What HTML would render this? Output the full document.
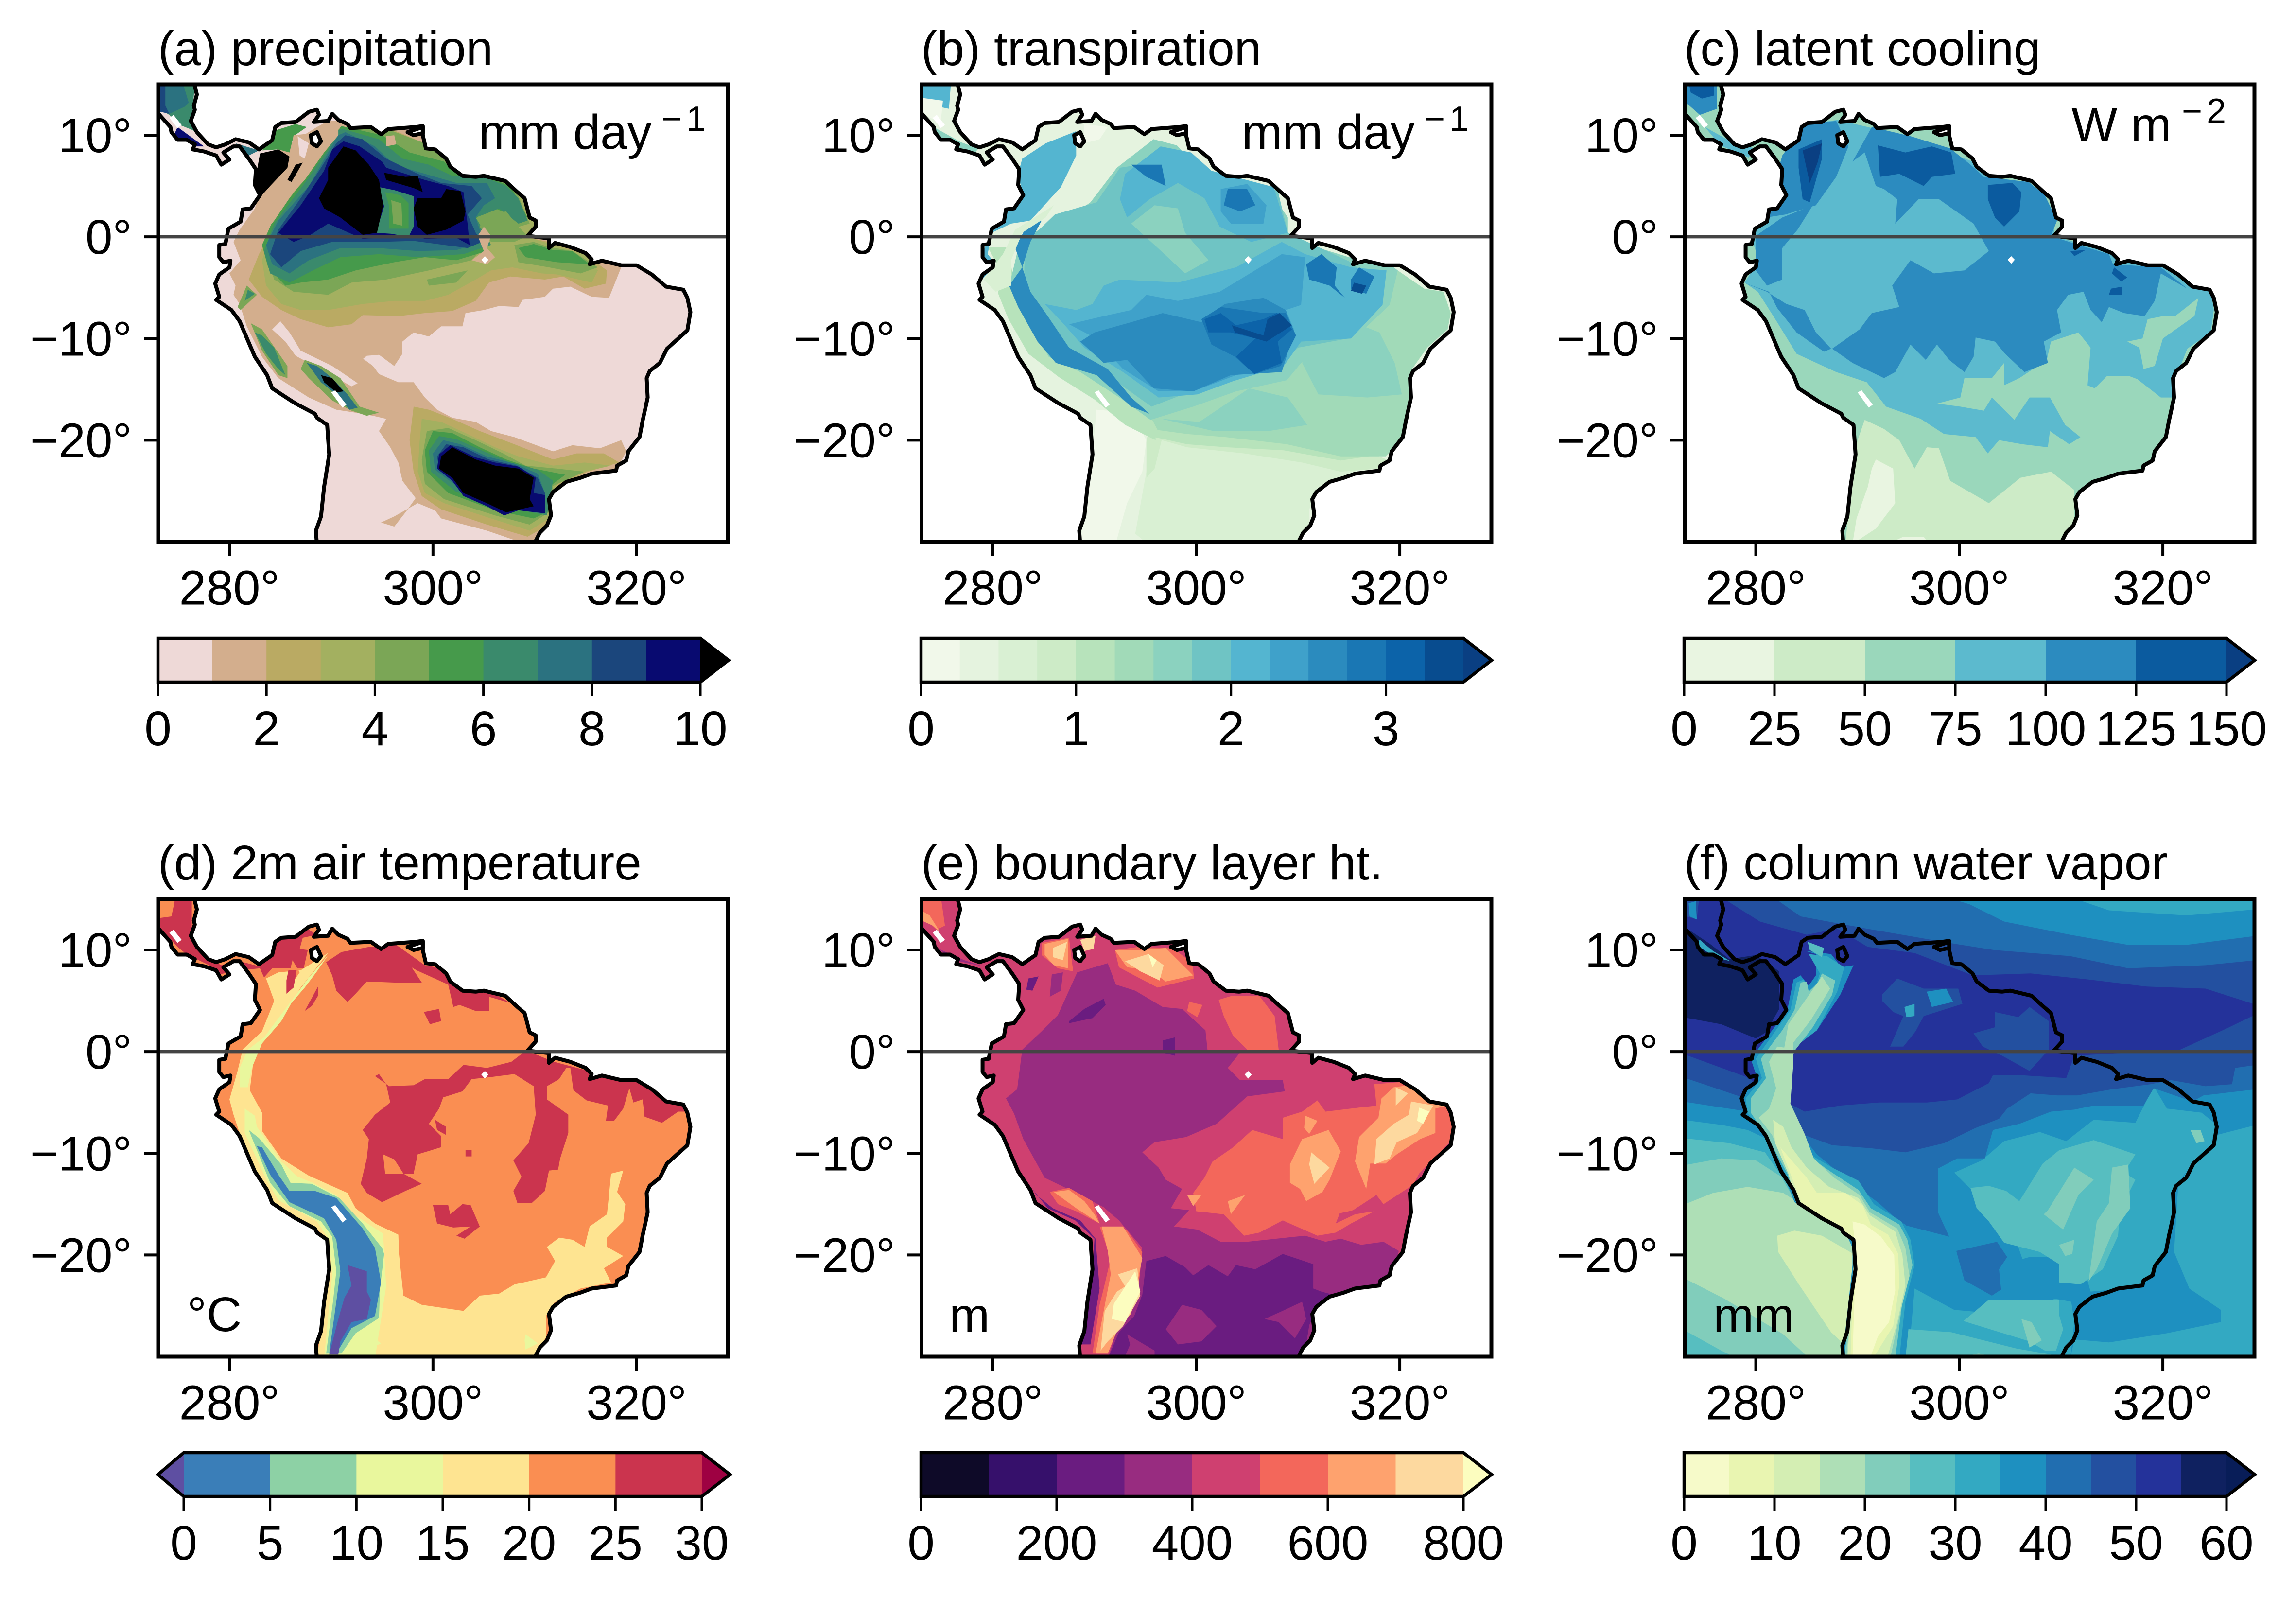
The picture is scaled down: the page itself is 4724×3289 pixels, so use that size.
<!DOCTYPE html>
<html lang="en">
<head>
<meta charset="utf-8">
<title>South America climate maps</title>
<style>
html,body{margin:0;padding:0;background:#fff;}
svg{display:block;font-family:"Liberation Sans",sans-serif;}
text{font-size:100px;fill:#000;}
</style>
</head>
<body>
<svg id="figure" width="4724" height="3289" viewBox="0 0 4724 3289">
<rect x="0" y="0" width="4724" height="3289" fill="#fff"/>
<g id="marks"></g>
<text x="325" y="134">(a) precipitation</text>
<text x="1895" y="134">(b) transpiration</text>
<text x="3465" y="134">(c) latent cooling</text>
<text x="325" y="1809">(d) 2m air temperature</text>
<text x="1895" y="1809">(e) boundary layer ht.</text>
<text x="3465" y="1809">(f) column water vapor</text>
<text x="985" y="306">mm day</text>
<text x="1361" y="269" style="font-size:72px;letter-spacing:9px">−1</text>
<text x="2555" y="306">mm day</text>
<text x="2931" y="269" style="font-size:72px;letter-spacing:9px">−1</text>
<text x="4262" y="291">W m</text>
<text x="4489" y="253" style="font-size:72px;letter-spacing:9px">−2</text>
<text x="385" y="2738">°C</text>
<text x="1953" y="2740">m</text>
<text x="3525" y="2740">mm</text>
</svg>
<script>
/* ---------- shared axis data ---------- */
const lonRange=[273,329];
const latRange=[-30,15];
const lonTicks=[280,300,320];
const latTicks=[10,0,-10,-20];
const coast=[276.5,15.2,276.8,14,276.5,12.9,276.6,12.5,276.2,11.4,276.8,10.3,277.9,9.1,278.7,8.8,279.6,9.1,280.6,9.6,281.9,9.3,282.9,8.6,284.2,9.5,284.5,10.8,285.1,11.2,286.5,11.3,287.8,12.3,288.6,12.5,288.8,12,288.3,11.3,289.7,11.4,290.1,12.1,290.7,11.5,291.6,11.1,291.9,10.7,293.9,10.8,294.9,10.1,295.6,10.6,298.3,10.8,299,10.9,299,10,299.3,8.7,300.2,8.6,301.3,7.7,301.7,6.9,302.9,6,304.2,5.9,305,6,307.1,5.5,308.3,4.4,309,3.8,309.5,1.9,310.1,1.6,310.1,1,309.3,0.1,311.4,-0.15,311.4,-1.1,312,-0.6,313.5,-1,315,-1.6,315.6,-2.2,315.4,-2.7,316.6,-2.35,318.5,-2.8,320,-2.8,321.5,-3.7,322.9,-4.9,324.6,-5.2,325,-6,325.3,-7.4,325,-9.2,323,-11,322.3,-12.4,321.3,-13.2,321,-13.9,321.1,-15.8,320.6,-18.1,320.3,-19.7,319.2,-21.1,319,-22,318.1,-22.5,318,-23,315.6,-23.3,314.5,-23.7,313.1,-24.1,311.8,-25.1,311.4,-25.8,311.6,-27.4,311.2,-28.4,310.5,-29.1,309.9,-30.3,288.6,-30.3,288.5,-28.9,289,-27.5,289.3,-24.6,289.8,-21.4,289.6,-18.5,288.6,-17.8,288.4,-17.4,286.5,-16.4,284.2,-14.9,283.7,-13.6,282.5,-11.8,281,-8.3,280.2,-7.2,278.7,-6.2,279,-5.9,278.6,-4.6,279,-3.7,280,-3,280.1,-2.35,279.4,-2.5,279,-2,279,-0.8,279.6,-0.7,279.9,0.8,281.1,1.5,281.3,2.7,282.1,2.8,283,4.1,282.5,5.1,282.6,6.65,281.9,7.7,281,8.9,280.4,8.9,279.4,8.3,280,7.6,279.2,7.1,278.7,8,277.5,8.4,276.4,8.6,276.6,9.1,275.8,9.55,274.9,9.55,274.3,10.3,274.2,10.8,273.3,11.8,272.8,12.4,272.8,15.2];
const lake=[288,10,288.6,10.3,289,9.4,288.6,8.9,288.1,9.2];
const islet=[297.5,10.3,299,10.8,299,10.2,298.1,10];
const missingPatches=[
[290.0,-15.3,290.4,-15.1,291.5,-16.5,291.1,-16.8],
[304.75,-2.25,305.1,-1.9,305.45,-2.25,305.1,-2.65],
[274.1,11.7,274.5,12.0,275.3,11.0,274.9,10.7]];

/* ---------- (a) precipitation ---------- */
const precipLevels=[0,1,2,3,4,5,6,7,8,9,10];
const precipTicks=[0,2,4,6,8,10];
const precipColours=['#eed9d7','#d3ae8d','#baaa63','#a3b060','#7ba656','#469a4b','#3a8a6c','#2b7280','#1b467c','#080a70','#000000'];
const precipBase=0;
const precipRegions=[
[1,[318.5,-3,317.3,-6,315.6,-5.9,313.5,-4.9,311.8,-5.1,311,-5.9,308.8,-6.2,308.4,-6.9,306.5,-6.8,305,-7.2,303.2,-7.5,302.9,-8.8,300.8,-8.8,299.6,-9.8,298.1,-9.4,297,-10.3,297,-11.5,296.2,-12.7,294.7,-11.6,293.5,-11.7,293,-12.1,291.8,-11,294.1,-12.7,294.7,-13.5,296.6,-14.3,298.1,-14.3,299.2,-15.8,300.4,-17,301.9,-17.8,304.2,-18.2,305.7,-19.1,308,-19.7,309.9,-20.4,311.8,-21.1,313.7,-20.5,316.4,-20.8,318.5,-20,319,-21.1,318.1,-22.8,315.2,-23.4,312.2,-24.9,311.4,-26.2,311.4,-28.3,309.9,-30.1,308.8,-30.1,305.3,-28.9,300.8,-27.7,300.2,-26.9,298.5,-26.2,296.2,-27.5,294.9,-28.1,296.2,-28.5,297.3,-27.1,298.3,-25.7,297,-24,296.6,-22.2,295.8,-20.7,294.7,-19.1,295.4,-17.9,294.1,-17.6,292.4,-17.3,290.5,-17,287.8,-15.8,284.8,-13.9,283.2,-11.8,281.7,-8.8,281,-6.6,280.4,-5.7,280.6,-4.8,280,-3.6,281.1,-2.3,280.4,-0.5,281,0.7,282.5,2.8,283.2,5,283.2,8,285.5,8.9,288.6,10.8,289.7,11.4,291.9,11.5,300,10,303,7,310,4,311,0,315,-1.5,318.5,-2.5]],
[0,[285,-8.3,285.9,-9.4,287,-11.2,290.1,-12.7,292.6,-14.4,292,-14.7,289.3,-13.2,286.5,-11.7,285.5,-10.3,284.2,-9.1]],
[2,[317.1,-3.3,317,-4.6,314.9,-5.1,312.8,-3.9,311,-4.2,307.6,-3.9,305.5,-4.5,304.2,-6.3,301.9,-7.3,299.2,-7.5,296.6,-7.8,293.1,-7.7,292,-8.6,289.7,-8.9,287,-8.1,285.1,-7.2,283.2,-5.9,281.9,-4.2,282.9,-1.7,284.2,0.7,285.1,3.1,287.4,6.2,289.3,8.3,290.1,10.5,292,10.8,295.4,10.8,299.2,9.2,302.3,6.8,308,5,310.3,1.6,309.5,-0.1,311.4,-0.5,314.9,-1.7]],
[3,[316.2,-3.3,315.6,-4.5,312.2,-3.7,310.7,-3.6,307.8,-3,305.7,-3.3,304.2,-4.2,301.5,-5.7,299.2,-6.3,296.2,-6.3,293.1,-6.6,289.7,-7.2,287,-7.2,285.1,-6.6,283.6,-4.8,283.2,-2.3,284,0.1,285.5,2.8,287.8,5.9,289.7,8.3,290.5,10.6,295,10.8,299.2,9.2,302.3,6.8,308,5,310.3,1.6,309.5,-0.1,314.9,-1.7]],
[4,[283.8,-2.3,284.4,-4.2,286.3,-5.4,289.7,-5.7,292,-4.5,295.4,-4.2,299.6,-3.3,303.8,-2.3,304.6,-1.4,305.3,0.1,309.5,1.3,308,5,302.3,6.8,299.2,9.2,295,10.8,290.9,10.8,289.7,8.3,287.8,5.9,285.5,2.8,284.2,0.1]],
[4,[299.4,-4.2,303.4,-3.3,302.3,-4.5,299.6,-4.8]],
[4,[308,-0.8,309.9,-0.5,311.4,-1,313.7,-1.4,316.2,-3,314.5,-3.6,311.4,-3,308.4,-2.5]],
[5,[291,10.9,295,10,297.7,8.3,301.1,7.4,302.3,6.2,305.3,5.9,307.6,5,309.3,1.9,307.6,2.2,306.1,2.8,304.6,2.2,303.8,1.3,305.3,-0.2,305.3,-1.4,302.3,-2.3,299.2,-2,296.2,-2.5,292.4,-3.3,289.7,-4.2,287,-4.5,285.5,-4.8,283.8,-3,283.2,-0.8,284.4,1.9,287.8,6.2,289.3,8.6]],
[5,[308.4,-1.1,309.9,-0.7,311.8,-1.3,313.7,-1.4,315.4,-2.7,312.2,-2.5,309.1,-2]],
[6,[291.2,10.6,294.7,9.6,297,7.7,299.6,7.1,301.9,6,305,5.9,307.2,5,308.4,3.8,309.3,1.6,308.4,1.3,306.5,2.8,305,2.2,304.2,1.9,305.3,0.1,305.7,-0.8,303,-1.7,298.5,-2,294.7,-1.7,290.9,-2,288.2,-3.3,285.9,-4.5,284,-3.6,283.4,-1.4,284.4,1.3,287.4,5.3,289.7,8.6,290.5,10.5]],
[7,[291.4,10.3,294.3,8.9,296.2,7.1,299.2,6.2,302.3,5.3,305.3,5.3,306.1,3.8,305,3.1,304.2,1.9,305,-0.5,302.3,-1.3,298.5,-1.4,294.7,-1.1,290.9,-1.1,287.8,-2.3,285.9,-3.6,284.2,-2.7,283.6,-0.8,284.8,1.6,287.8,5,289.7,8.3,290.7,10]],
[8,[291.4,10,293.1,9.6,295.4,7.7,298.5,6.2,300.8,5.3,303.8,5,304.8,3.8,304.2,3.1,303.4,2.2,304.2,0.4,304.8,-0.5,303.4,-1.1,298.1,-0.4,294.7,-0.5,290.1,-0.5,287,-1.4,285.1,-3,284,-1.7,284.8,0.7,287,3.8,289,6.8,290.5,9.2]],
[9,[291.2,9.4,292.8,8.9,295,7.4,295.4,6.8,299.2,5.6,301.5,5,303,4.4,303.4,1.3,303.6,-0.8,302.3,-0.1,299.2,-0.2,298.1,0.1,293.1,-0.2,289.7,1.3,287.8,0.1,286.3,-0.5,284.8,0.4,287,3.1,289.3,6.5,290.1,8.6]],
[6,[294.7,4.9,296.2,4.6,298.1,4,298.1,1,297.6,0,295.9,0.3,294.4,0.4,295.2,3]],
[5,[295.3,4.4,296.8,4.1,297.6,3.3,297.6,0.8,295.7,0.8,295.7,3]],
[4,[295.9,3.6,296.9,3.3,297,1.1,296.1,1.3]],
[4,[305.1,2.2,307.2,2.5,308.4,1,309.3,0.1,308,-0.5,305.7,-0.5,304.6,1]],
[1,[305,1,305.7,0.1,305.3,-1.1,306.1,-2,305.3,-2.7,303.8,-2.3,305,-1.4,304.4,0.1]],
[1,[295.4,9.9,296.2,10,296.4,9.1,295.4,8.9]],
[5,[283.2,8.5,284.6,10.5,286.5,11.1,287.6,10.8,286.3,9.9,285.9,8.3,284.8,8.6]],
[1,[286.3,10,288.2,10.2,288,7.4,286.9,7.4,285.1,4.5,284.4,4.4,283.2,2.2,282.1,0.4,281.5,-1.7,281.3,-0.5,282.5,2.2,284.4,5.3,285.9,7.7]],
[0,[286.7,9.9,287.8,9.2,287.4,7.7,286.9,8]],
[1,[289.7,10.8,290.7,10.8,290.7,10,289.3,8.3,287.4,5.6,286.3,4.4,284.4,1.6,283.2,0.1,282.9,-1.7,281.9,-1.7,282.5,0.1,284.4,2.2,286.3,5.3,288.2,7.4,289.3,9.2]],
[10,[291.2,8.9,289.7,6.8,289.7,5.6,288.8,3.8,289.3,2.8,290.9,1.9,293.1,0.2,294.5,0.4,294.9,2.2,295.1,3.1,294.7,5.6,293.7,7.1,292.4,8.5]],
[10,[283,8.2,284.8,8.6,285.9,7.9,285.7,6.8,284,5,283.2,4.1,282.7,4.4,282.7,6.5]],
[10,[295.2,6.3,297.3,5.9,298.5,6,299,4.4,298.1,4.8,295.4,5.6]],
[10,[301.3,4.7,302.7,4.5,303.2,2.5,303,1.6,301.3,0.7,299.4,0.2,298.5,1,298.1,2.8,298.5,3.8,300.8,3.8]],
[10,[286.5,7.1,287.2,7.3,286.1,5.4,285.7,5.6]],
[6,[272.8,15.2,276.6,15.2,276.3,11.4,277.9,9.1,276.4,10.5,274.9,11.1,274.1,12,273,12.6]],
[7,[273.3,15.2,275.4,15.2,276,13.2,275.6,12.8,274.1,12.1,273.1,13.2]],
[8,[272.8,15.2,273.7,15.2,273.7,12.9,274.1,12.1,272.8,12.4]],
[9,[274.9,10.8,277.5,8.9,276.2,8.9,274.5,9.9]],
[7,[280.6,9.2,282.9,8.5,281.7,7.9]],
[4,[281.7,-4.8,282.7,-5.7,281.1,-7.2,280.8,-6.9]],
[6,[281.8,-5.2,282.5,-5.6,281.5,-6.3]],
[4,[282.1,-8.5,283.2,-9.1,285.7,-12.7,285.7,-13.9,284.8,-13.6,283.2,-11.2]],
[6,[282.5,-9.4,283.2,-9.7,284.4,-10.9,285.5,-13.6,284.8,-13,283.6,-11.5]],
[4,[287.4,-12.1,289,-12.7,290.9,-13.9,292.8,-16.7,294.7,-17.3,293.5,-17.6,292,-17.1,290.1,-16.1,287.8,-13.9,287,-13]],
[7,[287.6,-12.4,288.6,-12.7,290.1,-13.9,291.6,-15.5,292.6,-16.8,291.8,-17,290.5,-15.5,289,-14.3]],
[10,[289,-13.6,290.1,-13.9,291.2,-15.2,290.5,-15.3,289.3,-14.3]],
[2,[298.1,-16.7,299.6,-17,301.9,-17.9,304.6,-19.1,308,-20.4,311.8,-21.9,314.1,-21.3,316.8,-21.3,318.3,-22.2,315.2,-23.1,312.2,-24.6,311.4,-26.2,311.4,-28.3,309.3,-29.5,305.3,-28.3,300.8,-26.8,298.9,-25.5,298.1,-23.1,297.7,-20]],
[3,[298.9,-17.9,300.8,-18.2,303.4,-19.4,306.1,-20.7,308.4,-21.6,311.8,-22.5,314.9,-22.2,317.5,-22.5,314.9,-23.1,312.2,-24.3,311.4,-25.8,311.4,-27.7,309.5,-28.9,305.7,-27.7,301.1,-26.2,299.2,-25.2,298.5,-23.1,298.7,-20]],
[4,[299.4,-19.1,301.5,-18.8,304.2,-20,306.9,-21.3,309.1,-22.5,312.2,-22.8,314.9,-23.1,311.8,-24.5,311.4,-27.1,309.5,-28.3,306.1,-27.4,301.1,-25.8,299.2,-24.3,298.9,-21.9]],
[5,[300,-19.1,301.9,-19.3,304.6,-20.7,307.2,-21.9,309.9,-22.8,313,-23.4,311.4,-24.6,311.2,-27.1,309.9,-27.7,306.1,-26.9,301.5,-25.2,299.4,-23.1,299.2,-21]],
[6,[300.6,-19.6,302.3,-19.9,305,-21.1,307.6,-22.2,310.3,-22.9,311.8,-24,311.2,-27.4,307.2,-26.6,302.3,-25.1,299.8,-23.1,299.6,-21]],
[7,[301,-20,302.7,-20.4,305.3,-21.6,308,-22.3,310.3,-23.3,311,-25.2,311,-27.2,307.2,-26.3,302.7,-24.8,300.2,-22.9,300,-21.3]],
[8,[301.3,-20.4,303,-20.7,305.5,-21.9,308.2,-22.5,310.3,-23.7,311,-25.2,311,-27.1,307.2,-26.2,302.9,-24.5,300.6,-22.8,300.4,-21.6]],
[9,[301.7,-20.5,304.2,-21.7,306.1,-22.2,308.4,-22.6,310.1,-23.7,309.9,-25.2,311,-25.4,311,-27.2,308.4,-26.9,307,-27.4,305.3,-26.5,303,-25.5,301.9,-24,300.4,-22.8,300.6,-21.4]],
[10,[301.9,-20.7,304.2,-21.9,306.1,-22.5,308.4,-22.8,309.9,-23.7,309.5,-25.8,309.9,-26.5,307.2,-27.1,305.3,-26.2,303,-25.2,301.9,-23.7,300.6,-22.8,300.8,-21.6]]
];

/* ---------- (b) transpiration ---------- */
const transpLevels=[0,0.25,0.5,0.75,1,1.25,1.5,1.75,2,2.25,2.5,2.75,3,3.25,3.5];
const transpTicks=[0,1,2,3];
const transpColours=['#f1f8ea','#e5f3df','#d9f0d3','#cdebc7','#b7e3bb','#a1dab8','#8bd2bf','#6fc4c4','#54b5d0','#3fa1ca','#2b8bbe','#1a77b4','#0c63a9','#084c8f','#0a3f82'];
const transpBase=0.25;
const transpRegions=[
[0.5,[295.5,-20,298.9,-19.7,306.6,-20.4,314.2,-21.3,317.6,-22.2,314.2,-23.7,311.9,-24.9,311.1,-26.8,311.1,-28.3,309.8,-30.1,295.1,-30.1,294,-29.2,295.1,-23.1]],
[0,[290.2,-17,293.6,-17.3,295.1,-20,294.7,-23.1,293.2,-26.2,292.1,-30.1,288.6,-30.1,289,-27.4,289.8,-21.3]],
[0.75,[295.5,-18.5,299.1,-18.3,303.6,-18.7,308.6,-19,314.2,-20,318.7,-21.9,318,-22.8,314.2,-23.1,310.4,-22.2,304.7,-21.3,299.1,-20.7,296.6,-20,295.9,-22.8,295.1,-23.7,295.1,-20]],
[1,[279.5,-1,280.6,-3,280.5,-5.5,281.5,-8,283.5,-11.5,286.5,-13.8,290,-16,293,-18.5,296,-20,296,-17,291,-13,285,-9,282,-4,281.5,-1]],
[1,[295.9,-17,299.7,-16,304,-16.5,309,-17,314,-17,320,-16,319,-21.3,314.2,-22,308.6,-21,303,-20.7,299.1,-20.4,295.9,-19.7]],
[1.25,[295.4,-17.5,299.7,-16,304.2,-13.5,308.4,-10.8,310.3,-9,315.2,-6.2,319.4,-4.4,319.8,-3.3,322.4,-5.1,324.3,-5.4,325,-7.5,324.7,-9.1,322.7,-10.9,321.2,-13,320.9,-14,321.1,-15.8,320.5,-18,320.1,-19.7,319.2,-21,318.6,-21.6,314.2,-21.6,308.9,-20.4,302.9,-19.7,299.1,-19.4,296.2,-19]],
[1.5,[296.6,-17.9,300.3,-18.2,305.2,-14.9,309,-15.8,310.9,-18.5,307.1,-19.1,301.7,-19.1]],
[1.5,[310.4,-12.4,315.4,-8.4,318,-9.4,319.5,-12.4,320.2,-15.5,316.8,-15.8,312,-15.5]],
[1.5,[283,0.1,286.9,1.5,289.6,3.4,292.2,6.8,295.8,9.6,298.1,9,300.7,6.2,306.9,5,309,1.9,309,0,311.1,-0.8,315,-2,319.4,-3,319.8,-3.3,319,-6.7,315.2,-10.3,310.3,-12.4,308.9,-14.1,303.9,-15.2,299.7,-16.7,295.5,-18,292.6,-15.9,288.6,-13.3,285.5,-11.8,283.1,-7.8,281.7,-4.5,282.5,-1.1]],
[1.75,[283.3,-0.5,286.1,2.2,290.2,3.4,292.5,6.8,296.3,7.4,299.2,6.2,300.8,6,308,4.6,309,0.4,315,-2.4,318.3,-4.8,317.9,-6.7,314.9,-10,310,-10.9,308.1,-12.7,302.5,-14,298.7,-15.5,295.6,-16.7,291.8,-14,288,-12.4,285,-10,283.1,-5.7,283.1,-3]],
[1.5,[293.6,1.3,295.9,3.1,298.2,2.8,298.9,0.4,301.2,-2.3,298.9,-3.6,295.9,-0.8]],
[2,[290.9,-4.8,292.5,-4.2,298.2,-4.5,303.9,-3,308.4,-0.5,310.7,-1.7,315.2,-3,318.7,-3.3,318.3,-6.7,315.2,-10,310.3,-10.3,308.6,-12.7,303.6,-14.2,300.1,-15.5,296.3,-15.8,292.8,-13.3,289,-10.9,287,-8.6,285.1,-6.6,288.2,-7.2,289.8,-6.6]],
[2,[293,6.2,296.5,8.9,299.5,8.3,301.5,6.5,307.6,4.9,309,0.4,305.4,-0.5,302.3,1,300.8,3.8,298.2,5.3,295.4,3.7,293.2,1.9,292.5,3.7]],
[2.25,[290.9,-7.8,293.6,-7.2,295.1,-5.7,298.2,-6.3,302.3,-5.4,308.4,-1.7,310.7,-2,310.3,-6.7,308.8,-7.2,309.6,-9.1,308.4,-12.7,303.9,-13.6,299.7,-15.2,296.3,-15.2,292.8,-13,289.8,-9.8,287.5,-8.6]],
[2.25,[302.4,4.7,305,5.2,306.9,3.1,306.6,1.3,303.4,1.3,302.4,2.5]],
[2.5,[290,-9.4,293.6,-8.4,296.7,-7.5,300.5,-8.4,302.8,-6.6,306.6,-6,308.8,-7.2,309.6,-9.4,308.4,-13.3,303.4,-13.6,299.7,-15.2,295.8,-14.9,293.2,-12.1,290.9,-12.4,288.6,-10.3]],
[2.5,[281.6,-4.8,282.9,-3,282.2,-1.1,283.3,1,284.8,1.6,283.7,-0.5,282.9,-3,283.7,-5.4,285.2,-7.5,287.5,-10.9,291.3,-13,293.6,-15.8,295.4,-17.4,293.6,-16.7,290.2,-13.6,286.2,-12.4,284.4,-10.3,282.5,-6.9]],
[2.75,[300.5,-8.1,302.4,-6.9,306.6,-7.5,308.8,-7.5,309.8,-9.7,308.3,-12.7,305.7,-13.5,303.8,-11.8,301.5,-10.6]],
[2.75,[310.8,-2.7,312.3,-1.7,313.8,-3,313.6,-4.8,314.6,-6,313.1,-4.8,311.1,-4.2]],
[2.75,[315.2,-4.2,316,-3,317.5,-3.9,316.7,-5.6,315.2,-5.1]],
[2.75,[295.1,7.1,296.6,7.1,297,5,295.1,5.9,293.6,7.1]],
[2.75,[303.1,4.7,305,4.7,305.8,3.1,304.3,2.5,302.7,3.1]],
[3,[300.8,-8.1,302.4,-7.5,303.9,-8.7,306.6,-8.1,307.9,-7.5,309.4,-9.1,308,-10.3,308.4,-12.4,305.7,-13.5,303.9,-11.8,305.8,-10,303.4,-9.4,301.2,-9.4]],
[3,[285.2,8.9,287.5,9.6,287.7,8.4,286.5,8,285.9,4.9,284.8,5.9,285.2,7.7]],
[3.25,[303.5,-8.7,306.6,-9.7,307,-8.1,308.2,-7.5,309.4,-8.7,306.9,-10.3,303.8,-9.4]],
[3.25,[315.5,-4.5,316.7,-4.8,316.3,-5.6,315.2,-5.3]],
[2,[282.9,7.7,285.2,9.2,288.2,10.4,288.2,8,286.7,4.9,283.7,1.6,281.8,1.3,279.9,0.4,279.5,-1.7,280.3,-2.7,278.7,-4.5,279.1,-1.4,279.9,0.7,281.3,2.2,282.9,4.4,282.5,6.2]],
[0.5,[281,-1.7,282.2,0.7,286,3.1,285.2,1.9,282.9,0.4,281.8,-2.3,281.8,-4.8,280.3,-5.4,279.1,-4.2]],
[0,[289,11.1,291.3,10.8,290.5,9.6,289,9.2]],
[2,[272.8,15.2,275.9,15.2,275.7,12.6,274.2,12.9,272.8,13.5]],
[0,[272.8,13.7,275.1,13.4,274.9,11.4,273.8,11.7,272.8,12.6]],
[1.5,[274.2,10.8,276.9,9.3,278.6,8.7,278,8,275,9.3]]
];

/* ---------- (c) latent cooling ---------- */
const latentLevels=[0,25,50,75,100,125,150];
const latentTicks=[0,25,50,75,100,125,150];
const latentColours=['#e9f5e1','#cdebc7','#9ad7bb','#5cbace','#2c8bbf','#0b5b9f','#0a3f82'];
const latentBase=50;
const latentRegions=[
[25,[290.7,-18,292.6,-18.9,294.1,-20,295.6,-22.8,296.8,-20.7,298,-20.8,299.1,-24,302.9,-26.2,306,-23.7,309,-23.1,311.3,-24.9,311.3,-30.2,288.8,-30.2,289.5,-23.1,290,-20]],
[0,[291.8,-21.9,293.5,-22.8,293.7,-26.2,291.8,-28.7,289.5,-30.2,289.9,-27.7,291,-24.6,291.4,-22.8]],
[0,[293,-30.2,294.5,-29.5,296.5,-29.5,297,-30.2]],
[75,[278.9,-4.5,280.3,-2.3,279.5,0.1,281,1.5,282,3,283,4.5,284,8,284.5,11,288,11.5,291,10.8,295.6,9.6,301.3,7.4,302.9,5.9,307,5.3,309.3,2.2,309.3,0.1,311.3,-0.5,315.1,-1.7,315.9,-2.3,320.1,-3,322.8,-4.8,324.7,-5.2,325,-7.2,324.7,-9.4,322.4,-11,321.7,-12.8,320.9,-14.4,321.1,-15.8,319.8,-15.8,317.5,-14,316.7,-13.7,314.5,-13.7,313.3,-14.9,312.6,-14.6,312.9,-10.9,311.7,-9.4,309,-10.3,308.6,-12.1,305.9,-13.9,304.4,-14.6,304.4,-12.4,303.2,-13.9,300.5,-13.9,300.1,-15.8,297.8,-16.4,300.1,-16.7,302.4,-17.1,303.2,-15.8,305.4,-18,306.9,-15.8,308.9,-15.8,310.4,-18.5,311.9,-19.7,310.8,-20.4,308.9,-19.1,308.7,-20.7,306.2,-20.4,303.9,-20,302.8,-21.3,301.6,-19.7,298.5,-19.4,296.2,-17.9,292.8,-16.7,290.9,-14.3,287.9,-13.3,284,-11.5,282.1,-8.4,280.2,-5.4]],
[50,[318.5,-8.1,320,-7.8,321.2,-7.8,323.5,-6,323.1,-7.8,320,-10,319.2,-12.7,318.1,-13,317.7,-10.9,316.5,-10.3,318,-10]],
[100,[289.5,7.4,291.4,10.8,295.2,9.9,299.1,8.7,301.1,7.1,302.4,5.9,306.8,5.4,308.4,4.1,309.6,1.6,309,0.1,311.7,-0.8,314.7,-1.7,315.1,-2.7,319.8,-3,322.4,-5.1,319.8,-3.6,319.2,-6.3,318.2,-7.8,316.2,-7.5,314.7,-6.9,314,-8.4,312.9,-7.2,312.2,-5.4,310.7,-5.7,309.6,-7.2,310,-9.4,308.3,-10.3,308.7,-12.4,306.4,-13.3,304.5,-11.5,303.5,-10.3,301.6,-9.9,301.4,-11.8,300.5,-13.3,299,-12.1,297.8,-10.6,296.7,-12.1,295.2,-10.6,293.7,-13.3,292.6,-13.9,289.5,-12.4,287.5,-11,290.2,-9.1,291.4,-7.5,294.1,-6.9,293.4,-4.8,295.2,-2.3,297.5,-3.6,300.5,-3.3,302.9,-1.4,301.4,1.3,298,3.7,296,3.7,293.7,1.3,293.9,3.7,292.6,4.7,291.8,5,290.7,8.3]],
[100,[278.8,-4.5,281.1,-5.4,283,-6.6,284.8,-7.2,285.9,-9.4,287.4,-11,286.7,-11.3,284,-9.4,282.1,-7,281.3,-5.4]],
[100,[280,0.1,282.6,1.9,285.6,3.1,284.1,0.7,282.6,-1.1,282.6,-4.2,281.1,-4.8,280,-3.3]],
[100,[282.6,8,284.9,11.1,287.9,11.4,289.1,8.9,287.9,5.9,285.9,3.1,282.9,2.2,281,1.9,282.6,3.7,282.1,6.2]],
[125,[292,9,294.7,8.3,297.3,8.9,299.2,8.3,299.6,6.2,297.3,5.9,296.5,5,294.1,6.2,292.2,5.9]],
[125,[302.8,5.1,305.2,5.3,306.1,4.4,305.9,2.5,304.4,1,303.5,1.9,302.8,3.7]],
[125,[284.2,8.6,286.5,9.6,286.5,7.7,285.3,3.4,284.6,3.7,284.2,6.8]],
[125,[315.2,-3,316.5,-4,315.9,-4.4,315,-3.6]],
[125,[314.9,-5.1,316,-4.9,316,-5.7,314.7,-5.7]],
[125,[310.9,-1.4,312.4,-1.3,311.3,-1.9]],
[150,[284.6,8.5,286.5,9.2,286.1,7.4,285.3,5.3]],
[100,[272.8,15.2,276.2,15.2,276.2,12.6,274.5,12,272.8,13.5]],
[125,[273.4,15.2,275.9,15.2,275.9,13.9,274.7,13.6,273.6,14.2]],
[75,[275,10.8,277.7,9.3,279.9,8.7,279.3,7.8,276.5,9]]
];

/* ---------- (d) 2 m air temperature ---------- */
const tempLevels=[0,5,10,15,20,25,30];
const tempTicks=[0,5,10,15,20,25,30];
const tempColours=['#5e4fa2','#3a7eb8','#8dd1a5','#e9f79d','#fee491','#fa8e52','#cb344e','#9e0142'];
const tempBase=20;
const tempRegions=[
[25,[289.5,8.8,291,9.8,293.7,10.3,296.4,10.5,299.2,8.5,300.8,8.2,301.9,7,302.9,6.1,305.3,6.1,307.6,4.8,305.5,5.4,305.5,4,304.2,4,302.6,4.6,302,4.4,301.5,6.6,298.4,8,297.9,8.3,298.9,6.8,296.2,6.8,293.5,6.9,292.4,5.7,291.6,4.9,290.5,6,290.1,7.5]],
[25,[299.1,3.9,300.6,4.2,300.8,3,299.7,2.7]],
[25,[309,0,309.9,-0.2,311.9,-1,315.3,-1.9,316.9,-2.4,320.5,-3,323.4,-5,325,-5.3,325.3,-5.9,324.1,-5.9,322.5,-7,320.8,-6.4,320.6,-4.7,319.7,-5,319.3,-3.6,318.7,-5.6,317.8,-6.8,317,-6.8,317.2,-5.3,315.1,-4.8,313.8,-3.8,313.5,-1.6,313.1,-1.6,312.4,-2.7,311.2,-3.4,311.2,-4.7,313.3,-6.2,313.3,-8,312.5,-10.5,312.3,-11.6,311.4,-11.7,311,-13.7,309.7,-14.9,308.3,-14.9,307.9,-13.7,308.7,-12.3,307.9,-10.7,309.4,-9,310.1,-6.2,309.9,-3.4,308,-2.2,305.7,-2.5,303.8,-2.7,302.9,-3.9,301,-4.5,300.6,-5.6,299.6,-7.1,300.8,-8.3,300.8,-9.4,298.5,-10.1,298.1,-12,297.1,-12,296.2,-10.6,295.1,-10.1,295.3,-12,297.1,-12,298.9,-13,297.3,-13.7,295,-14.8,293.5,-13.9,292.9,-13,293.5,-10.5,293.7,-8.6,293.1,-7.7,294.3,-6.2,295.8,-5,295.4,-3.2,294.7,-2.2,294.3,-2.4,295.7,-3.4,298.1,-3.3,299.2,-2.7,301.5,-2.7,303,-1.3,305.3,-1.6,307.7,-1]],
[25,[300.2,-6.7,301.3,-7.4,301.3,-8.2,300.4,-7.7]],
[25,[300,-15.1,301.5,-15.1,301.7,-16,302.9,-15,303.7,-15.1,304.6,-17.2,303.1,-18.4,302.3,-18.1,303.7,-17.2,302,-17.3,300.4,-16.9]],
[25,[303.2,-9.7,303.8,-9.7,303.8,-10.3,303.2,-10.3]],
[15,[296.2,-18.1,296.6,-19.3,297.1,-24,298.9,-24.9,303,-25.5,304.6,-24,306.5,-23.8,308,-22.9,311.1,-22.2,312,-20.6,311.2,-19.2,312.4,-18.3,313.7,-18.5,314.9,-19.2,315.4,-17.2,317.1,-16,317.3,-14.1,317.5,-12,318.7,-11.7,318.1,-13.8,318.9,-15,318.7,-16.7,317.1,-18.3,317.1,-19.2,318.7,-20.1,316.8,-21.3,317.5,-22.7,314.5,-23.3,311.9,-24.7,311.1,-26,311.1,-28.1,309.9,-30.2,293.1,-30.2,294.7,-23.3,294.7,-17.5]],
[15,[280.4,-6.2,280,-4.7,280.8,-1.9,281.3,0.2,283.2,2,284.4,5,283.6,7.2,284.8,7.8,287,8,289.7,9.7,287,6.3,285.1,3.2,284,1.7,282.5,0.2,282,-3.8,283.2,-6,283.2,-7.8,285.1,-10.5,287.8,-12.2,291.6,-13.9,292.4,-15.4,294.3,-16.9,296.6,-18,297,-30.2,288.6,-30.2,289.3,-24.9,289.8,-21.5,289.6,-18.4,288.3,-17.2,284.4,-15.1,283.2,-12.9,281.3,-8.9]],
[10,[281.5,-5.6,282.5,-6.3,282.7,-7.4,285.1,-10.8,286.7,-12.3,288.2,-12.9,290.5,-14.1,291.6,-15.6,295.1,-17.9,295.4,-23.1,294.3,-30.2,289.3,-30.2,290.1,-21.9,289.8,-18.5,288.6,-16.7,284.8,-14.6,283.7,-12.7,281.5,-8]],
[10,[281,-1.6,281.8,0.2,283.4,1.4,285.5,4.2,287.8,7.3,289.7,9.5,288.6,7.9,287.4,6.3,286.1,4.8,285.1,3,283.2,0.8,282.2,-1.6,281.8,-3.5,281,-3.5]],
[10,[309.1,-27.8,310.3,-28.7,309.1,-29.3,309,-28.4]],
[10,[292.2,-27.8,294.5,-28.4,294.9,-28.7,292.8,-29.7]],
[5,[281.9,-7.7,282.9,-8.5,285.1,-11.1,286,-12.9,288.1,-13,290.8,-14.4,293.1,-16.9,295,-19.3,295.2,-19.9,294.8,-23.3,294.7,-26.2,292.4,-27.7,291,-29.7,289.5,-29.7,290.2,-24.4,290.5,-21.6,290.1,-18.2,289,-16.7,285.9,-15.2,284,-12.9]],
[0,[282.7,-9.3,283.2,-9.4,284.8,-12.1,285.9,-13.7,288.4,-13.7,290.5,-14.4,293.1,-17.4,294.3,-19.3,294.9,-22.7,294.3,-26,292,-27.2,290.5,-29.7,289.8,-29.7,290.5,-24.6,290.9,-21.6,290.5,-18.5,289.3,-16.4,285.9,-14.8,284,-12.1]],
[-5,[291.6,-21,293.5,-21.6,293.5,-23.6,293.9,-24.4,293.5,-26.3,292,-26.6,290.9,-28.5,290.7,-29.8,289.8,-29.8,290.7,-26.3,291.3,-24.2,292,-23]],
[25,[272.8,15.2,276.3,15.2,276.3,11.4,277.9,9.2,279.2,8.5,281,8.9,282.9,8.4,284,9.5,284.6,11,287.8,12,288.6,11.5,287.2,11.2,286.9,10.1,287.7,10,287.3,8.2,284.2,8.2,283.4,7.3,283,8.2,281,8,279,7.6,276.5,9,274.9,10.3,273.2,12.2]],
[20,[272.8,15.2,274.7,15.2,274.3,13.3,272.8,13.1]],
[20,[275.1,9.9,277.8,8.6,279,7.8,279.4,7,277.5,7.9,276,8.7]],
[20,[286.2,9,286.9,7.8,285.9,6.3,285.9,7.8]],
[25,[285.8,8,286.6,8,286.3,6.3,285.6,5.7,285.6,7]],
[25,[288.7,6.4,287.4,4,288.1,4.5,288.7,5.5]],
[20,[289.7,11,291.6,10.8,290.1,9.9]]
];

/* ---------- (e) boundary layer height ---------- */
const blhLevels=[0,100,200,300,400,500,600,700,800];
const blhTicks=[0,200,400,600,800];
const blhColours=['#0e0a28','#36106b','#6a1c80','#982c80','#cf4070','#f3675b','#fea26e','#fdd99f','#fcfdbf'];
const blhBase=400;
const blhRegions=[
[300,[282.9,0.2,284.8,2,286.4,3.6,288.3,7.8,291.3,8.7,292.1,6.6,294,6,296.7,4.4,298.6,4.2,300.9,2.1,301.1,0.2,304.3,-0.1,303.1,-1.6,304.3,-2.8,308.5,-2.8,308.7,-3.9,305,-4.4,302,-7.1,299,-8.4,295.9,-8.9,294.7,-9.9,296.3,-11.4,297,-12.6,298.6,-13.5,297.5,-15.4,299.3,-15.6,297.8,-17.2,300.1,-17.5,302.4,-18.7,305,-18.7,310.7,-18.1,312.7,-18.7,314.2,-18.4,316.2,-19,318.4,-18.7,319.9,-19.6,319.2,-22.6,314,-23.9,312.1,-30.2,291.3,-30.2,294.7,-19.3,292.4,-16.6,290.9,-15.3,288.2,-13.9,285.1,-12.4,283,-8.6,282.1,-6.1,281.3,-4.6,282.4,-3.7]],
[200,[295.1,-20.6,297,-20.1,298.9,-21.2,299.7,-22,301.2,-21,303.1,-22.1,303.9,-21,305.8,-21.4,308.5,-19.9,311.5,-20.9,311.5,-23.3,312.3,-23.6,313.4,-23.9,311.9,-25.1,311.1,-26.9,310.8,-28.8,309.5,-30.2,291.3,-30.2,292.4,-27.6,293.9,-26,294.7,-23.9]],
[300,[298.6,-24.9,300.5,-25.4,302,-27,300.5,-28.5,298.2,-28.8,297,-27.3]],
[300,[306.7,-26.3,308.7,-25.4,310.4,-24.6,310.8,-26.3,309.7,-28.2,308.1,-26.6]],
[300,[293.2,-27.8,295.9,-29.4,295.9,-30.2,292.9,-30.2,293.5,-28.8]],
[500,[301.6,-10.8,303.5,-9.5,305.5,-7.7,308.5,-8.6,308.5,-6.5,310.4,-5.9,311.9,-4.8,312.7,-5.9,317.7,-5.3,317.5,-3.2,320,-3,323,-5.1,324.5,-5.3,325.3,-7.4,324.9,-8.9,321.9,-12,321.3,-13.1,318.4,-15,317.7,-14.1,315.4,-15.6,314.1,-15.9,313.7,-16.9,315.6,-16,317.5,-15.7,315.2,-16.9,313.7,-17.8,311.9,-18.1,308.5,-16.6,306.2,-17.8,304.7,-18.1,302.7,-16,300,-15.7,299.7,-13.9,300.8,-12.4]],
[500,[302.2,5.1,303.5,5.5,306.2,5.5,307.7,3.5,308.1,0.2,305,0.2,303.6,1.6,302.7,3.5]],
[500,[292,10,294.3,10.3,297.7,10.2,299.6,8.7,299.8,7.2,296.2,6.3,293.9,7.5,292.4,8.3]],
[500,[290.5,-17.2,293.2,-17.6,294.7,-19.7,294.3,-23.3,292.4,-27,291.3,-29.7,289.8,-29.7,290.5,-24.9,290.9,-23.3,291.6,-20.3]],
[500,[285.6,-13.8,287.5,-13.4,289.8,-14.7,290.5,-16.9,288.2,-15.7,286.4,-15]],
[500,[284.8,10.7,287.5,11.2,287.9,7.9,286.4,8.2,284.8,9.5]],
[500,[299.3,4.9,300.6,4.6,300.1,3.4,299.1,4]],
[600,[319.4,-3.5,321.7,-3.2,324.7,-5.3,323.5,-5.6,323.5,-8,322,-8.6,319.7,-10.1,318.6,-11,317.1,-11,316.7,-13.5,315.6,-10.8,316,-8.4,317.9,-6.5,318.2,-4.6]],
[600,[309.2,-11.1,310.4,-8.6,313,-7.7,314.2,-9.8,313.1,-12.6,312.4,-13.8,310.8,-14.7,310.2,-13.5,309.2,-12.9]],
[600,[292,10,294.7,10,297,10.2,299.7,7.5,297,6.9,295.5,8,293.2,8.3]],
[600,[290.7,-17.2,292.8,-17.2,294.7,-20.3,293.6,-25.8,292.4,-27,291.3,-29.7,290.1,-29.7,290.9,-25.5,291.6,-21.9,291.3,-19.6]],
[600,[286,-13.8,287.5,-13.6,289,-14.7,290,-16,290.5,-16.9,288.2,-15.4]],
[600,[285.1,10.6,287.4,11.1,287.4,8.2,286,8.5,285.1,9.5]],
[600,[310.7,-6.3,311.9,-6.8,311.1,-8.1,310.6,-7.5]],
[600,[299.1,-14.1,300.5,-14.1,299.7,-15.2]],
[600,[303.1,-14.7,304.8,-14.1,303.4,-16]],
[700,[319.6,-3.5,320.8,-4.1,319.6,-5.3]],
[700,[321.1,-4.9,323.3,-5.3,321.7,-8,319.7,-8.9,319,-10.5,317.5,-11.1,317.7,-8.6,319.4,-7.1,320.9,-6.2]],
[700,[293,8.9,295.3,9.6,296.8,8.5,296.4,7,294.5,7.9]],
[700,[311.3,-9.9,313.1,-11.4,311.6,-13,311.1,-11.1]],
[700,[292.3,-21.9,294.2,-21.3,294.5,-24,292.8,-27,291.3,-28.5,290.6,-29.4,291,-25.5,292.2,-23.6,293,-23.1]],
[700,[285.9,10.2,287.3,10.8,286.9,9,285.9,9.3]],
[700,[288.6,11,290.1,11.4,289.9,10.1,289,9.9]],
[800,[321.9,-5.5,322.9,-5.9,322.3,-7.1,321.7,-6.8]],
[800,[291.9,-24.8,294,-21.6,294.5,-23.6,293,-26.6,291.7,-26.3]],
[800,[295.3,9.6,296.1,9,295.7,8.3]],
[200,[283.9,-13.5,285.4,-15.4,288.1,-16.6,290,-18.4,289.8,-21.4,289.2,-26.3,288.5,-28.8,289.6,-28.8,290.5,-23.3,290.1,-18.4,288.6,-16.6,285.9,-15.4,284.3,-14.1]],
[200,[287.5,3.0,289,4.2,290.9,5.2,291.1,4.6,289.8,3.3,287.5,2.8]],
[200,[283.5,7.2,284.5,7.4,283.9,6,283.3,6.1]],
[200,[296.7,1.1,297.9,1.4,297.9,-0.4,296.7,-0.1]],
[300,[285.8,7.6,286.9,7.8,286.7,6,285.6,5.4]],
[500,[272.8,15.2,274.9,15.2,275.3,12.4,274.5,12,272.8,13.5]],
[600,[272.8,14,273.8,13.4,274.8,11.8,274.1,12.4,272.8,13]],
[300,[274.5,10.2,277.2,9,279,8.4,276.2,9]]
];

/* ---------- (f) column water vapor ---------- */
const cwvLevels=[0,5,10,15,20,25,30,35,40,45,50,55,60];
const cwvTicks=[0,10,20,30,40,50,60];
const cwvColours=['#f6fac9','#e9f5b1','#d4eeb3','#aedfb6','#81cdbb','#57bec0','#33a9c2','#1e90c0','#216eb0','#2350a0','#24329a','#0f2160','#081d58'];
const cwvBase=35;
const cwvRegions=[
[30,[310.9,15.2,329.2,15.2,329.2,14,322.3,13.4,314.7,13.9]],
[30,[329.2,-7.2,329.2,-30.2,310.9,-30.2,311.3,-28.3,314.7,-28.6,320.4,-27.7,325.7,-26.6,325.7,-25.4,322.6,-23.3,321.1,-19.7,321.5,-13.2,323,-10.7,325.3,-8.2]],
[30,[299.5,-11.9,302.2,-10.7,304.4,-8.8,307.9,-7.9,310.5,-8.8,313.2,-6.7,317.3,-7,319.1,-3.4,320.4,-5.6,323.8,-6,325.3,-7.2,324.7,-9,323.1,-10.7,321.5,-12.9,321,-14.1,321,-15.6,320.4,-18.1,320,-19.9,319.1,-21.4,318.1,-22.8,315.2,-23.4,312.9,-23.6,312.5,-22.2,311.3,-20.9,309.8,-20.2,306.9,-20.2,306.2,-20.4,305.2,-17.5,303,-15.4]],
[30,[295.6,-23.3,299.5,-25.4,305.2,-25.9,309.4,-24.3,311,-24.6,311.3,-26.6,310.9,-30.2,295,-30.2]],
[30,[272.8,-6.7,276.6,-7.2,279.2,-7.7,280.9,-8.5,283,-12.9,283.8,-14.6,287.9,-17.5,289.1,-30.2,272.8,-30.2]],
[25,[272.8,-8.5,277.4,-9,280.9,-9.9,283,-12.9,283.8,-14.6,287.9,-17.5,289.1,-30.2,272.8,-30.2]],
[20,[272.8,-11.2,276.6,-10.5,280,-10.7,282.5,-12.3,283.8,-14.6,288.3,-17.5,288.1,-30.2,278.2,-30.2,276.6,-29.4,272.8,-27.3]],
[15,[272.8,-15.1,275.8,-13.9,279.2,-13.3,282.7,-13.9,283.8,-14.6,288.7,-17.5,289.9,-20.2,288.5,-30.2,285.3,-30.2,282.7,-27.8,276.9,-24.3,272.8,-22.2]],
[10,[282.1,-18.1,283.8,-17.6,286.5,-18.1,289.6,-19.9,289.6,-23.3,288.7,-28.8,287.4,-27.6,284.3,-23,282.2,-19.7]],
[40,[272.8,15.2,298.7,15.2,301,14.5,304.4,12.8,310.9,11.5,316.6,10.5,322.3,10.5,329.2,11.4,329.2,-3.7,324,-4.3,322.9,-4.9,319.1,-3.6,318.1,-5.3,313.2,-5.3,311.3,-5.7,309,-5.9,305.9,-7.1,303.3,-7.7,302.5,-10.5,299.8,-10.5,297.9,-11.5,297.9,-15.8,299,-18.2,294.4,-17,292.1,-14.9,289.1,-12.7,286,-10.1,284.5,-8.2,279.9,-6,272.8,-4.9]],
[45,[272.8,15.2,281.7,15.2,284.4,13.3,290.9,12.1,299.6,10.6,303.4,10,310.9,9.4,316.6,8.2,324.2,8.5,329.2,9,329.2,-1.3,327.1,-1.6,326.8,-3.2,324.2,-3.4,320.8,-2.8,318.8,-3.2,315,-3.7,311.6,-4.3,309.6,-4.3,307,-4.1,304.7,-5.6,303.9,-6.6,301.6,-7.5,298.5,-9,294.7,-9.9,291.3,-9.5,287.5,-9.2,284.5,-8.1,279.9,-4.9,272.8,-2.5]],
[50,[272.8,15.2,276.6,15.2,280.4,12.8,285,11.5,288,12.1,291,10.3,295.6,9.7,301.3,7.5,307,7.7,312.7,7.1,318.4,6.4,324.2,6.2,329.2,4.6,329.2,3.7,326.3,2.3,321.7,0.2,311.3,-0.4,310.5,-2.6,305.9,-2.3,303.3,-2.3,302.9,-3.1,299.8,-4.7,296.8,-5,292.1,-5,288.3,-5.3,284.8,-5.9,282.5,-4.7,279.1,-2.5,272.8,-0.2]],
[45,[301.4,1.8,303.5,2.4,303.5,3.9,305.8,3.4,306.9,4.4,308.8,3,308.8,0.2,306.9,-1.9,304.2,-0.4,302.3,0.5]],
[55,[272.8,12.4,275.5,10.6,277.4,9.1,280,9.5,282.3,7.9,282.3,4.2,281,1.9,280,1.3,276.6,2.7,272.8,3.4]],
[45,[273,14.8,274.4,14.8,274.2,13,273.2,13.3]],
[45,[292.4,5.6,293.9,7.2,296.5,6.2,299.9,6.2,300.3,4.7,296.5,3.5,295.7,2,294.5,0.5,293.2,0.5,294.5,3.5,293.5,3.9,292.4,5]],
[35,[296.8,5.9,298.7,6.2,299.4,4.9,297.3,4.4]],
[30,[294.6,4.4,295.6,4.7,295.6,3.5,294.8,3.4]],
[40,[299.7,-19.6,303.7,-18.7,304.7,-20.2,303.9,-21.4,304.1,-23.4,303.2,-24,300.5,-22.5]],
[35,[284.9,9.9,287.4,9.6,288.4,8.3,289.6,8.5,288.3,5.6,286,2.1,283.5,0.4,282.6,-1,282.8,-4.7,284,-7.5,285,-10.1,287.5,-11.5,290.1,-13,291.8,-15.4,294.7,-17,295.5,-18.5,295.9,-21,295.1,-24.6,294.4,-30.2,288.5,-30.2,289.5,-21,289.5,-18.5,288.3,-17.4,283.8,-14.8,282.7,-12,280.9,-8.5,278.8,-6,278.6,-4.6,280.1,-2.5,279.5,-0.7,281.6,2.1,283.1,4.1,283.7,7.1,284.4,7.5,285.2,6.5,285.9,7.5,285.9,9.6]],
[30,[285.2,9.6,287,9.4,288.7,8.3,288,5.9,286,2.1,283.8,0.4,282.9,-1,283,-4.7,284,-7.5,285,-9.9,287.5,-11.4,290.1,-12.7,291.6,-15,294.3,-16.7,295.2,-18.5,295.6,-21,294.7,-24.6,294.1,-30.2,288.7,-30.2,289.6,-21,289.5,-18.5,288.3,-17.4,283.9,-14.8,282.9,-12,281,-8.5,279.2,-6,279,-4.6,280.6,-2.6,280,-0.7,281.9,2,283.4,4.1,284,6.8,284.7,7.1,285.2,6,285.9,6.5,286.3,7.7]],
[20,[286.5,7.7,287.8,7,287.5,5.6,285.6,2.4,283.9,0.2,283.2,-1.3,283.2,-4.9,284.3,-7.8,285.2,-10.3,287.5,-11.9,290.1,-13.6,291.3,-15.4,294.1,-17,294.9,-18.5,295.4,-21,294.4,-24.6,293.7,-30.2,288.7,-30.2,289.6,-21,289.5,-18.5,288.3,-17.5,284,-14.8,283.1,-12,281.2,-8.5,279.5,-6,279.5,-4.6,281,-2.6,280.5,-0.7,282.6,2.1,283.8,4.1,284.4,6.8,285,6.9,285.2,5.9,286.1,6.8]],
[15,[286.5,7.4,287.3,6.2,286.5,4.9,285.4,3.1,283.7,0.9,283.7,-1,283.4,-5.1,284.8,-8.1,285.7,-10.5,287.7,-12.4,290.2,-14.1,291.2,-15.8,293.9,-17.4,294.7,-19.3,295.1,-22.1,294.3,-25.2,293.2,-30.2,288.9,-30.2,289.6,-21,289.5,-18.5,288.3,-17.5,284,-14.8,283.2,-12,281.6,-8.2,280.3,-6.5,281.3,-5.6,282,-3.6,281.3,-1,282.1,0.5,282.8,0.4,283.2,2.7]],
[10,[281.7,-6.7,282.7,-7.4,283.5,-9.4,285,-11.4,287.2,-13.3,290.1,-14.4,291.2,-16.1,293.7,-17.7,294.4,-20,294.7,-23,293.9,-26.6,292.9,-30.2,289,-30.2,289.6,-21,289.5,-18.5,288.3,-17.5,284,-14.8,283.2,-12,281.9,-9]],
[5,[282.4,-9.4,285,-12.4,286,-13.9,288.8,-13.9,290.5,-15.1,291.3,-17,293,-18,294,-19.9,294.1,-23,293.5,-27,291.5,-30.2,289.3,-30.2,289.6,-21,289.5,-18.5,288.3,-17.5,284.5,-14.9,283.4,-12]],
[0,[289.5,-16.7,290.7,-17,292.3,-18.2,293.6,-20,293.7,-23.5,293.1,-26.6,292,-28,291.2,-30.2,289.5,-30.2,289.8,-21,289.7,-18.5]],
[25,[301.1,-13.4,302.9,-13.2,304.6,-13.7,305.9,-14.7,308.2,-11,309.8,-9.7,313.2,-8.7,317.3,-10.1,316.2,-11.9,317.3,-12.6,315.8,-15.6,315.6,-18.1,314.1,-21.4,311.9,-22.9,309.8,-22.7,309.8,-20.9,307.9,-19.7,304.4,-18.8,302.9,-16.7,301.7,-15.4]],
[20,[308.7,-15.6,311.3,-11.4,313.2,-12.6,311.7,-14.1,310.2,-17.5,308.3,-16]],
[20,[315,-11.4,316.6,-11.1,316.8,-15.4,315,-17.9,313.5,-21.4,312.7,-22.6,313.5,-16.7,314.7,-14.9]],
[20,[309.8,-19,311.3,-18.5,311.1,-19.9,310.4,-20.1]],
[20,[322.7,-7.7,323.7,-7.7,324.1,-8.8,323.3,-9]],
[25,[300.4,-26.5,302.9,-24.4,306.2,-24.4,309.8,-24.4,309.8,-25.9,310.2,-27.3,309.5,-29.4,308.4,-29.4,306.9,-28.5]],
[25,[295,-27.3,299.2,-27.6,305.6,-29.2,309,-29.8,310.2,-30.2,294.7,-30.2]],
[20,[306.1,-26.3,307.1,-26.6,308.1,-28.4,306.9,-29.1]],
[20,[299,-30.2,301.9,-29.7,304.6,-30.2]],
[35,[273.4,14.6,274.1,14.8,274.2,13,273.5,13.3]],
[30,[274,10.6,276,9.3,277.5,8.9,275.8,9.9,274.5,11]],
[25,[285.1,10.8,286.7,10.2,286.5,9.3,285.3,10]]
];

/* ---------- layout (not data) ---------- */
const plotWidth=1172.5, plotHeight=941, tipLength=58, barHeight=90;
const panels=[
 {id:'a',name:'precipitation',left:325.5,top:173.5,barLeft:325,barRight:1441,barTop:1313,levels:precipLevels,ticks:precipTicks,colours:precipColours,base:precipBase,regions:precipRegions,extendLow:false,extendHigh:true,land:true,missing:true},
 {id:'b',name:'transpiration',left:1896,top:173.5,barLeft:1895,barRight:3011,barTop:1313,levels:transpLevels,ticks:transpTicks,colours:transpColours,base:transpBase,regions:transpRegions,extendLow:false,extendHigh:true,land:true,missing:true},
 {id:'c',name:'latent-cooling',left:3466,top:173.5,barLeft:3465,barRight:4581,barTop:1313,levels:latentLevels,ticks:latentTicks,colours:latentColours,base:latentBase,regions:latentRegions,extendLow:false,extendHigh:true,land:true,missing:true},
 {id:'d',name:'air-temperature',left:325.5,top:1849.5,barLeft:378,barRight:1444,barTop:2988,levels:tempLevels,ticks:tempTicks,colours:tempColours,base:tempBase,regions:tempRegions,extendLow:true,extendHigh:true,land:true,missing:true},
 {id:'e',name:'boundary-layer',left:1896,top:1849.5,barLeft:1895,barRight:3011,barTop:2988,levels:blhLevels,ticks:blhTicks,colours:blhColours,base:blhBase,regions:blhRegions,extendLow:false,extendHigh:true,land:true,missing:true},
 {id:'f',name:'column-water-vapor',left:3466,top:1849.5,barLeft:3465,barRight:4581,barTop:2988,levels:cwvLevels,ticks:cwvTicks,colours:cwvColours,base:cwvBase,regions:cwvRegions,extendLow:false,extendHigh:true,land:false,missing:false}
];

/* ---------- axis functions ---------- */
function lonToX(p,lon){return p.left+(lon-lonRange[0])/(lonRange[1]-lonRange[0])*plotWidth;}
function latToY(p,lat){return p.top+(latRange[1]-lat)/(latRange[1]-latRange[0])*plotHeight;}
function barX(p,v){const a=p.levels[0],b=p.levels[p.levels.length-1];return p.barLeft+(v-a)/(b-a)*(p.barRight-p.barLeft);}
function bandColour(p,v){
  const off=p.extendLow?1:0;
  if(v<p.levels[0])return p.colours[0];
  for(let i=p.levels.length-1;i>=0;i--){if(v>=p.levels[i])return p.colours[i+off];}
  return p.colours[off];
}
function pathOf(p,flat){
  let d='';
  for(let i=0;i<flat.length;i+=2){d+=(i?'L':'M')+lonToX(p,flat[i]).toFixed(1)+' '+latToY(p,flat[i+1]).toFixed(1);}
  return d+'Z';
}

/* ---------- drawing ---------- */
const svg=document.getElementById('figure');
const svgNS=svg.namespaceURI;
const root=document.getElementById('marks');
function make(tag,parent){const n=document.createElementNS(svgNS,tag);parent.appendChild(n);return n;}
const defs=make('defs',svg);

function drawPanel(p){
  const g=make('g',root);
  
  

  const frameClip=make('clipPath',defs);
  frameClip.id='frame-clip-'+p.id;
  const cr=make('rect',frameClip);
  cr.setAttribute('x',p.left);cr.setAttribute('y',p.top);
  cr.setAttribute('width',plotWidth);cr.setAttribute('height',plotHeight);

  const landClip=make('clipPath',defs);
  landClip.id='land-clip-'+p.id;
  const lc=make('path',landClip);
  lc.setAttribute('d',pathOf(p,coast));

  const inner=make('g',g);
  inner.setAttribute('clip-path','url(#frame-clip-'+p.id+')');
  
  

  const field=make('g',inner);
  if(p.land){field.setAttribute('clip-path','url(#land-clip-'+p.id+')');}
  
  

  const base=make('rect',field);
  base.setAttribute('x',p.left);base.setAttribute('y',p.top);
  base.setAttribute('width',plotWidth);base.setAttribute('height',plotHeight);
  base.setAttribute('fill',bandColour(p,p.base));
  
  

  p.regions.forEach(function(r){
    const poly=make('path',field);
    poly.setAttribute('d',pathOf(p,r[1]));
    poly.setAttribute('fill',bandColour(p,r[0]));
    
    
  });

  if(p.missing){
    missingPatches.forEach(function(m){
      const hole=make('path',inner);
      hole.setAttribute('d',pathOf(p,m));
      hole.setAttribute('fill','#fff');
      
      
    });
  }

  const coastLine=make('path',inner);
  coastLine.setAttribute('d',pathOf(p,coast));
  coastLine.setAttribute('fill','none');
  coastLine.setAttribute('stroke','#000');
  coastLine.setAttribute('stroke-width','8');
  coastLine.setAttribute('stroke-linejoin','round');
  
  

  [lake,islet].forEach(function(shape){
    const w=make('path',inner);
    w.setAttribute('d',pathOf(p,shape));
    w.setAttribute('fill',p.land?'#fff':'none');
    w.setAttribute('stroke','#000');
    w.setAttribute('stroke-width','8');
    w.setAttribute('stroke-linejoin','round');
    
    
  });

  const eq=make('line',g);
  eq.setAttribute('x1',p.left);eq.setAttribute('x2',p.left+plotWidth);
  eq.setAttribute('y1',latToY(p,0));eq.setAttribute('y2',latToY(p,0));
  eq.setAttribute('stroke','#444');eq.setAttribute('stroke-width','6.5');
  
  

  const frame=make('rect',g);
  frame.setAttribute('x',p.left);frame.setAttribute('y',p.top);
  frame.setAttribute('width',plotWidth);frame.setAttribute('height',plotHeight);
  frame.setAttribute('fill','none');frame.setAttribute('stroke','#000');frame.setAttribute('stroke-width','8');
  
  

  const bottom=p.top+plotHeight;
  lonTicks.forEach(function(v){
    const x=lonToX(p,v);
    const t=make('line',g);
    t.setAttribute('x1',x);t.setAttribute('x2',x);t.setAttribute('y1',bottom);t.setAttribute('y2',bottom+29);
    t.setAttribute('stroke','#000');t.setAttribute('stroke-width','6');
    
    
    const l=make('text',g);
    l.setAttribute('x',x);l.setAttribute('y',bottom+129);l.setAttribute('text-anchor','middle');
    l.textContent=v+'°';
    
    
  });
  latTicks.forEach(function(v){
    const y=latToY(p,v);
    const t=make('line',g);
    t.setAttribute('x1',p.left-29);t.setAttribute('x2',p.left);t.setAttribute('y1',y);t.setAttribute('y2',y);
    t.setAttribute('stroke','#000');t.setAttribute('stroke-width','6');
    
    
    const l=make('text',g);
    l.setAttribute('x',p.left-54);l.setAttribute('y',y+35);l.setAttribute('text-anchor','end');
    l.textContent=(v<0?'−'+(-v):v)+'°';
    
    
  });
}

function drawColorbar(p){
  const g=make('g',root);
  
  
  const top=p.barTop, bot=p.barTop+barHeight, mid=top+barHeight/2;
  const off=p.extendLow?1:0;
  for(let i=0;i<p.levels.length-1;i++){
    const x0=barX(p,p.levels[i]),x1=barX(p,p.levels[i+1]);
    const r=make('rect',g);
    r.setAttribute('x',x0);r.setAttribute('y',top);
    r.setAttribute('width',x1-x0+0.5);r.setAttribute('height',barHeight);
    r.setAttribute('fill',p.colours[i+off]);
    
    
  }
  const hi=make('polygon',g);
  hi.setAttribute('points',p.barRight+','+top+' '+(p.barRight+tipLength)+','+mid+' '+p.barRight+','+bot);
  hi.setAttribute('fill',p.colours[p.colours.length-1]);
  
  
  let outline;
  if(p.extendLow){
    const lo=make('polygon',g);
    lo.setAttribute('points',p.barLeft+','+top+' '+(p.barLeft-tipLength+5)+','+mid+' '+p.barLeft+','+bot);
    lo.setAttribute('fill',p.colours[0]);
    
    
    outline=(p.barLeft-tipLength+5)+','+mid+' '+p.barLeft+','+top+' '+p.barRight+','+top+' '+(p.barRight+tipLength)+','+mid+' '+p.barRight+','+bot+' '+p.barLeft+','+bot;
  }else{
    outline=p.barLeft+','+top+' '+p.barRight+','+top+' '+(p.barRight+tipLength)+','+mid+' '+p.barRight+','+bot+' '+p.barLeft+','+bot;
  }
  const o=make('polygon',g);
  o.setAttribute('points',outline);
  o.setAttribute('fill','none');o.setAttribute('stroke','#000');o.setAttribute('stroke-width','6.5');
  
  
  p.ticks.forEach(function(v){
    const x=barX(p,v);
    const t=make('line',g);
    t.setAttribute('x1',x);t.setAttribute('x2',x);t.setAttribute('y1',bot);t.setAttribute('y2',bot+29);
    t.setAttribute('stroke','#000');t.setAttribute('stroke-width','5');
    
    
    const l=make('text',g);
    l.setAttribute('x',x);l.setAttribute('y',bot+130);l.setAttribute('text-anchor','middle');
    l.textContent=String(v);
    
    
  });
}

panels.forEach(function(p){drawPanel(p);drawColorbar(p);});
</script>
</body>
</html>
